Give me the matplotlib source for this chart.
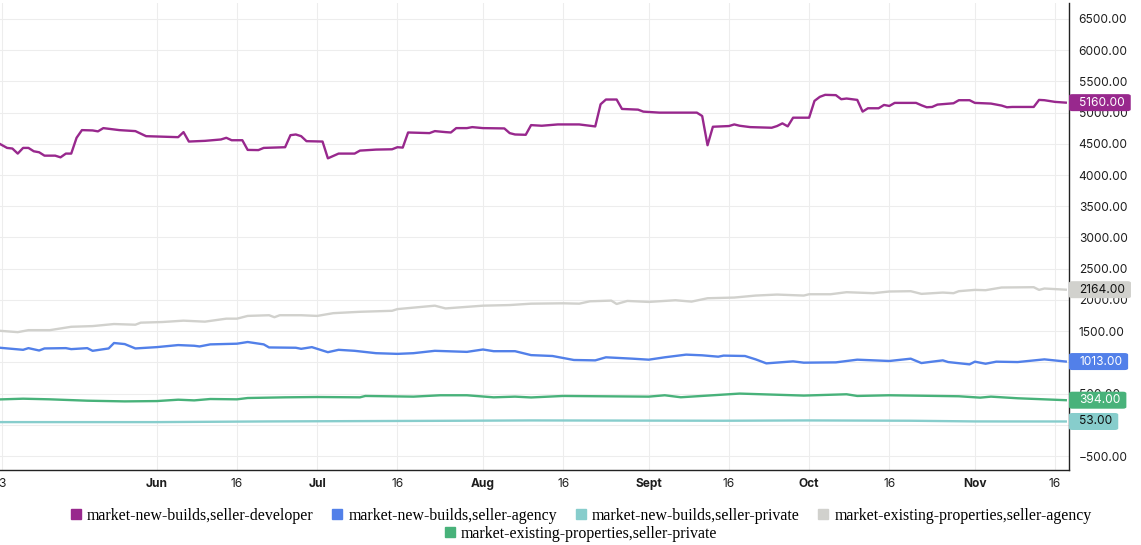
import matplotlib
matplotlib.use("Agg")
import matplotlib.pyplot as plt
import matplotlib.dates as mdates
from matplotlib.lines import Line2D
from matplotlib.patches import FancyBboxPatch
import pandas as pd

YEAR = "2023-"

dev_dates = ["05-02", "05-04", "05-05", "05-06", "05-07", "05-08", "05-09", "05-10", "05-11", "05-13",
             "05-14", "05-15", "05-16", "05-17", "05-18", "05-20", "05-21", "05-22", "05-25", "05-28",
             "05-30", "06-05", "06-06", "06-07", "06-10", "06-13", "06-14", "06-15", "06-17", "06-18",
             "06-20", "06-21", "06-25", "06-26", "06-27", "06-28", "06-29", "07-02", "07-03", "07-05",
             "07-08", "07-09", "07-10", "07-12", "07-15", "07-16", "07-17", "07-18", "07-22", "07-23",
             "07-25", "07-26", "07-27", "07-29", "07-30", "08-01", "08-05", "08-06", "08-07", "08-09",
             "08-10", "08-12", "08-15", "08-19", "08-22", "08-23", "08-24", "08-26", "08-27", "08-30",
             "08-31", "09-03", "09-10", "09-11", "09-12", "09-13", "09-16", "09-17", "09-18", "09-20",
             "09-24", "09-25", "09-26", "09-27", "09-28", "10-01", "10-02", "10-03", "10-04", "10-06",
             "10-07", "10-08", "10-10", "10-11", "10-12", "10-14", "10-15", "10-16", "10-17", "10-21",
             "10-22", "10-23", "10-24", "10-25", "10-28", "10-29", "10-31", "11-01", "11-04", "11-06",
             "11-07", "11-08", "11-12", "11-13", "11-14", "11-16", "11-18"]
dev_values = [4530, 4435, 4425, 4344, 4435, 4435, 4381, 4365, 4311, 4311,
              4284, 4344, 4344, 4597, 4720, 4715, 4700, 4752, 4720, 4704,
              4623, 4607, 4688, 4537, 4548, 4570, 4597, 4558, 4558, 4403,
              4400, 4435, 4446, 4639, 4650, 4623, 4543, 4537, 4268, 4344,
              4344, 4392, 4397, 4408, 4413, 4446, 4440, 4682, 4672, 4704,
              4688, 4682, 4752, 4752, 4768, 4752, 4747, 4672, 4650, 4645,
              4800, 4790, 4811, 4811, 4779, 5134, 5210, 5210, 5059, 5048,
              5016, 5000, 5000, 4946, 4478, 4774, 4785, 4811, 4790, 4768,
              4758, 4785, 4828, 4780, 4919, 4919, 5188, 5253, 5285, 5280,
              5215, 5226, 5204, 5016, 5070, 5070, 5123, 5107, 5156, 5156,
              5118, 5086, 5091, 5129, 5150, 5199, 5199, 5156, 5145, 5113,
              5086, 5091, 5091, 5204, 5199, 5172, 5160]

agency_dates = ["05-02", "05-07", "05-08", "05-10", "05-11", "05-15", "05-16", "05-19", "05-20", "05-23",
                "05-24", "05-26", "05-28", "06-01", "06-05", "06-08", "06-09", "06-11", "06-16", "06-18",
                "06-21", "06-22", "06-27", "06-28", "06-30", "07-03", "07-05", "07-08", "07-12", "07-16",
                "07-19", "07-23", "07-29", "08-01", "08-03", "08-07", "08-10", "08-14", "08-18", "08-22",
                "08-24", "08-29", "09-01", "09-04", "09-08", "09-11", "09-14", "09-15", "09-19", "09-21",
                "09-23", "09-28", "09-30", "10-06", "10-10", "10-16", "10-20", "10-22", "10-24", "10-26",
                "10-27", "10-31", "11-01", "11-03", "11-05", "11-09", "11-14", "11-18"]
agency_values = [1239, 1201, 1228, 1190, 1223, 1228, 1212, 1228, 1185, 1223,
                 1310, 1293, 1223, 1244, 1277, 1266, 1255, 1288, 1299, 1326,
                 1288, 1239, 1234, 1217, 1244, 1163, 1201, 1185, 1147, 1136,
                 1147, 1185, 1168, 1206, 1179, 1179, 1116, 1102, 1038, 1032,
                 1081, 1059, 1043, 1081, 1124, 1113, 1091, 1108, 1102, 1048,
                 984, 1016, 995, 1000, 1043, 1022, 1059, 989, 1011, 1032,
                 1005, 968, 1011, 978, 1011, 1005, 1048, 1013]

newpriv_dates = ["05-02", "06-01", "06-22", "07-28", "08-10", "09-15", "10-01", "10-20", "11-01", "11-18"]
newpriv_values = [43, 43, 54, 65, 70, 65, 70, 65, 54, 53]

exag_dates = ["05-02", "05-06", "05-08", "05-12", "05-16", "05-20", "05-24", "05-28", "05-29", "06-02",
              "06-06", "06-10", "06-14", "06-16", "06-18", "06-22", "06-23", "06-24", "06-28", "07-01",
              "07-04", "07-09", "07-15", "07-16", "07-23", "07-25", "08-01", "08-06", "08-10", "08-16",
              "08-19", "08-21", "08-25", "08-26", "08-28", "09-01", "09-06", "09-09", "09-12", "09-17",
              "09-21", "09-25", "09-30", "10-01", "10-05", "10-08", "10-13", "10-16", "10-20", "10-22",
              "10-26", "10-28", "10-29", "11-01", "11-03", "11-06", "11-12", "11-13", "11-14", "11-18"]
exag_values = [1510, 1484, 1516, 1516, 1570, 1581, 1614, 1603, 1636, 1646,
               1668, 1652, 1700, 1700, 1744, 1755, 1723, 1755, 1755, 1744,
               1788, 1810, 1826, 1853, 1908, 1864, 1908, 1918, 1940, 1946,
               1940, 1978, 1989, 1935, 1984, 1968, 1995, 1973, 2027, 2038,
               2070, 2086, 2070, 2091, 2091, 2124, 2108, 2135, 2140, 2097,
               2118, 2108, 2140, 2161, 2156, 2199, 2204, 2161, 2183, 2164]

expriv_dates = ["05-02", "05-07", "05-12", "05-19", "05-26", "06-01", "06-05", "06-08", "06-11", "06-16",
                "06-18", "06-25", "07-01", "07-09", "07-10", "07-19", "07-24", "07-29", "08-03", "08-07",
                "08-10", "08-16", "08-23", "09-01", "09-04", "09-07", "09-18", "09-24", "09-30", "10-08",
                "10-10", "10-16", "10-29", "11-02", "11-04", "11-09", "11-18"]
expriv_values = [405, 418, 408, 386, 375, 380, 402, 391, 413, 408,
                 429, 440, 445, 440, 462, 451, 473, 473, 440, 451,
                 438, 462, 457, 451, 473, 441, 500, 484, 468, 489,
                 462, 473, 457, 435, 451, 425, 394]

series = [
    ("market-new-builds,seller-developer", dev_dates, dev_values, "#98288d", "white"),
    ("market-new-builds,seller-agency", agency_dates, agency_values, "#5280e9", "white"),
    ("market-new-builds,seller-private", newpriv_dates, newpriv_values, "#87cdcc", "#111111"),
    ("market-existing-properties,seller-agency", exag_dates, exag_values, "#d1d1cd", "#111111"),
    ("market-existing-properties,seller-private", expriv_dates, expriv_values, "#48b27a", "white"),
]

tick_dates = ["05-03", "06-01", "06-16", "07-01", "07-16", "08-01", "08-16",
              "09-01", "09-16", "10-01", "10-16", "11-01", "11-16"]
tick_labels = ["3", "Jun", "16", "Jul", "16", "Aug", "16", "Sept", "16", "Oct", "16", "Nov", "16"]
y_ticks = list(range(-500, 7000, 500))

W, H = 1141, 545
fig = plt.figure(figsize=(W / 100, H / 100), dpi=100)
ax = fig.add_axes([0, 1 - 470 / H, 1069 / W, 467 / H])

ui_font = "Inter"

for name, dts, vals, color, _ in series:
    x = pd.to_datetime([YEAR + d for d in dts])
    ax.plot(x, vals, color=color, lw=1.7, solid_joinstyle="round", zorder=3)

x0 = mdates.date2num(pd.Timestamp(YEAR + "05-03")) - 0.32
x1 = mdates.date2num(pd.Timestamp(YEAR + "11-18")) + 0.6
ax.set_xlim(x0, x1)
ax.set_ylim(-724, 6756)

ax.set_xticks(pd.to_datetime([YEAR + d for d in tick_dates]))
ax.set_xticklabels(tick_labels, fontfamily=ui_font, fontsize=8.6, color="#1e1e1e")
for lbl, txt in zip(ax.get_xticklabels(), tick_labels):
    if not txt.isdigit():
        lbl.set_fontweight("bold")

ax.yaxis.tick_right()
ax.set_yticks(y_ticks)
ax.set_yticklabels([f"{v:.2f}".replace("-", "\u2212") for v in y_ticks],
                   fontfamily=ui_font, fontsize=8.6, color="#1e1e1e")
ax.tick_params(axis="x", length=0, pad=6)
ax.tick_params(axis="y", length=0, pad=7)

ax.grid(True, color="#ededed", lw=0.8)
ax.set_axisbelow(True)
for s in ["top", "left"]:
    ax.spines[s].set_visible(False)
for s in ["bottom", "right"]:
    ax.spines[s].set_color("#222222")
    ax.spines[s].set_linewidth(1.0)

# last-value price labels on the right scale (figure-level so they sit over the tick labels)
fig.canvas.draw()
for name, dts, vals, color, tcolor in series:
    _, py = ax.transData.transform((x1, vals[-1]))
    t = fig.text(1079 / W, py / H, f"{vals[-1]:.2f}", ha="left", va="center",
                 fontfamily=ui_font, fontsize=8.6, color=tcolor, zorder=7)
    bb = t.get_window_extent(renderer=fig.canvas.get_renderer())
    left, right = 1069, bb.x1 + 6
    box = FancyBboxPatch((left / W, (py - 8.5) / H), (right - left) / W, 17 / H,
                         boxstyle="round,pad=0,rounding_size=0.003",
                         transform=fig.transFigure, facecolor=color, edgecolor="none",
                         zorder=6)
    fig.add_artist(box)

handles = [Line2D([], [], marker="s", linestyle="none", markersize=7.5, color=c)
           for _, _, _, c, _ in series]
names = [s[0] for s in series]
order1 = [0, 1, 2, 3]
leg_kw = dict(frameon=False, handletextpad=0.2, columnspacing=1.0, handlelength=1.0,
              prop={"family": "Liberation Serif", "size": 11.4}, borderpad=0, borderaxespad=0)
fig.legend([handles[i] for i in order1], [names[i] for i in order1], ncol=4,
           loc="center", bbox_to_anchor=(0.508, 1 - 516 / H), **leg_kw)
fig.legend([handles[4]], [names[4]], ncol=1,
           loc="center", bbox_to_anchor=(0.508, 1 - 534 / H), **leg_kw)

fig.savefig("out.png", dpi=100)
